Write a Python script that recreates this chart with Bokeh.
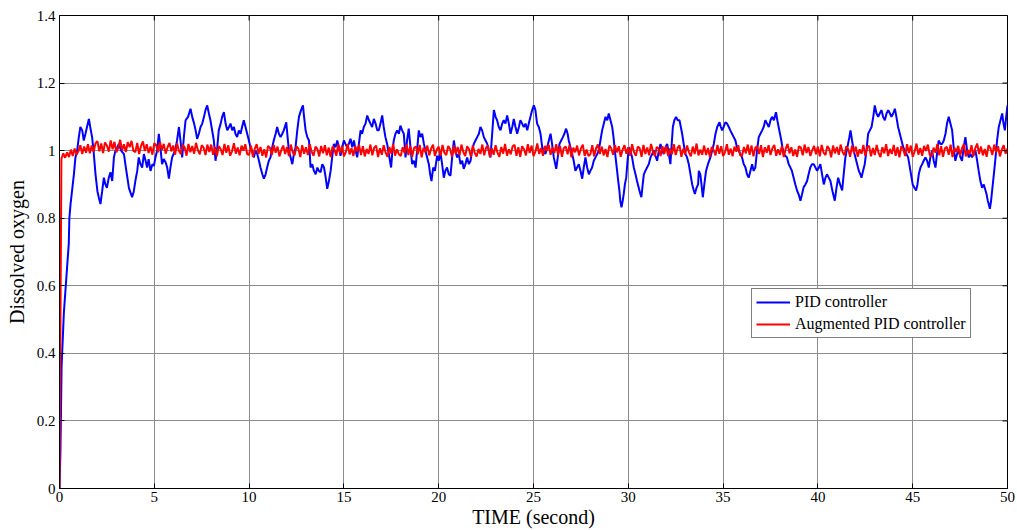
import math
from bokeh.plotting import figure
from bokeh.models import Range1d, FixedTicker, Legend, LegendItem
from bokeh.embed import file_html
from bokeh.resources import INLINE

# ---------------- data ----------------
x_ticks = [0, 5, 10, 15, 20, 25, 30, 35, 40, 45, 50]
y_ticks = [0, 0.2, 0.4, 0.6, 0.8, 1.0, 1.2, 1.4]
y_tick_labels = {0: "0", 0.2: "0.2", 0.4: "0.4", 0.6: "0.6", 0.8: "0.8", 1.0: "1", 1.2: "1.2", 1.4: "1.4"}

series_names = ["PID controller", "Augmented PID controller"]

# PID controller response (time, value)
blue_t = [0, 0.05, 0.11, 0.23, 0.4, 0.49, 0.52, 0.58, 0.7, 0.76, 0.84, 0.93, 1.02, 1.1, 1.2, 1.28, 1.37, 1.45, 1.55, 1.62,
          1.72, 1.81, 1.9, 2.0, 2.07, 2.16, 2.25, 2.34, 2.42, 2.5, 2.6, 2.69, 2.78, 2.87, 2.95, 3.05, 3.13, 3.25, 3.4, 3.5,
          3.58, 3.66, 3.75, 3.83, 3.92, 4.0, 4.1, 4.18, 4.27, 4.36, 4.45, 4.54, 4.62, 4.7, 4.8, 4.9, 4.98, 5.06, 5.15, 5.24,
          5.32, 5.41, 5.5, 5.6, 5.68, 5.77, 5.85, 5.94, 6.02, 6.1, 6.2, 6.3, 6.38, 6.47, 6.56, 6.65, 6.78, 6.91, 7.0, 7.1,
          7.18, 7.26, 7.35, 7.44, 7.53, 7.62, 7.7, 7.79, 7.88, 7.96, 8.05, 8.14, 8.23, 8.32, 8.4, 8.5, 8.58, 8.67, 8.76, 8.85,
          8.94, 9.02, 9.11, 9.2, 9.28, 9.37, 9.46, 9.55, 9.63, 9.72, 9.81, 9.9, 9.99, 10.07, 10.16, 10.25, 10.34, 10.43, 10.52, 10.6,
          10.7, 10.78, 10.87, 10.95, 11.04, 11.13, 11.22, 11.3, 11.4, 11.48, 11.57, 11.66, 11.75, 11.83, 11.96, 12.03, 12.1, 12.19, 12.28, 12.36,
          12.45, 12.54, 12.63, 12.74, 12.84, 12.9, 12.98, 13.07, 13.16, 13.24, 13.33, 13.42, 13.51, 13.6, 13.68, 13.77, 13.86, 13.95, 14.04, 14.12,
          14.21, 14.3, 14.38, 14.47, 14.56, 14.65, 14.74, 14.82, 14.91, 15.0, 15.08, 15.17, 15.26, 15.35, 15.44, 15.53, 15.62, 15.7, 15.79, 15.88,
          15.96, 16.05, 16.14, 16.23, 16.32, 16.4, 16.49, 16.58, 16.67, 16.76, 16.84, 16.93, 17.02, 17.1, 17.19, 17.28, 17.37, 17.49, 17.56, 17.63,
          17.72, 17.81, 17.9, 17.98, 18.07, 18.16, 18.25, 18.33, 18.42, 18.51, 18.6, 18.69, 18.78, 18.86, 18.95, 19.04, 19.13, 19.22, 19.3, 19.39,
          19.48, 19.55, 19.62, 19.71, 19.8, 19.92, 20.0, 20.09, 20.18, 20.27, 20.35, 20.44, 20.53, 20.62, 20.71, 20.8, 20.88, 20.97, 21.06, 21.15,
          21.24, 21.32, 21.41, 21.5, 21.59, 21.68, 21.76, 21.85, 21.94, 22.03, 22.12, 22.2, 22.29, 22.38, 22.47, 22.56, 22.64, 22.73, 22.82, 22.91,
          23.0, 23.08, 23.17, 23.26, 23.35, 23.43, 23.52, 23.61, 23.7, 23.79, 23.88, 23.96, 24.05, 24.14, 24.23, 24.31, 24.4, 24.49, 24.58, 24.67,
          24.75, 24.84, 24.93, 25.02, 25.1, 25.19, 25.28, 25.37, 25.46, 25.54, 25.63, 25.72, 25.81, 25.9, 25.98, 26.07, 26.2, 26.28, 26.37, 26.46,
          26.55, 26.63, 26.72, 26.8, 26.86, 26.95, 27.04, 27.12, 27.21, 27.3, 27.39, 27.48, 27.57, 27.65, 27.74, 27.83, 27.92, 28.0, 28.09, 28.18,
          28.27, 28.36, 28.44, 28.53, 28.62, 28.71, 28.8, 28.89, 28.97, 29.06, 29.15, 29.22, 29.29, 29.35, 29.41, 29.47, 29.53, 29.58, 29.64, 29.7,
          29.76, 29.82, 29.89, 29.96, 30.03, 30.11, 30.2, 30.29, 30.38, 30.46, 30.55, 30.62, 30.69, 30.76, 30.82, 30.9, 30.99, 31.08, 31.17, 31.26,
          31.35, 31.43, 31.52, 31.61, 31.7, 31.78, 31.87, 31.96, 32.05, 32.14, 32.22, 32.29, 32.35, 32.43, 32.52, 32.61, 32.7, 32.77, 32.84, 32.92,
          33.01, 33.1, 33.19, 33.28, 33.37, 33.44, 33.51, 33.6, 33.68, 33.72, 33.8, 33.86, 33.93, 34.01, 34.1, 34.2, 34.33, 34.42, 34.51, 34.6,
          34.69, 34.81, 34.88, 34.95, 35.03, 35.12, 35.21, 35.3, 35.38, 35.47, 35.56, 35.65, 35.73, 35.82, 35.91, 36.0, 36.09, 36.18, 36.26, 36.35,
          36.44, 36.53, 36.61, 36.7, 36.79, 36.88, 36.97, 37.06, 37.14, 37.23, 37.32, 37.41, 37.5, 37.58, 37.68, 37.79, 37.86, 37.93, 38.0, 38.07,
          38.13, 38.2, 38.28, 38.37, 38.46, 38.55, 38.63, 38.72, 38.81, 38.9, 38.99, 39.08, 39.16, 39.25, 39.34, 39.43, 39.51, 39.6, 39.69, 39.78,
          39.87, 39.96, 40.05, 40.13, 40.22, 40.31, 40.4, 40.48, 40.57, 40.66, 40.77, 40.89, 40.98, 41.07, 41.17, 41.28, 41.36, 41.45, 41.52, 41.59,
          41.66, 41.72, 41.8, 41.89, 41.98, 42.07, 42.16, 42.24, 42.3, 42.38, 42.47, 42.56, 42.65, 42.74, 42.83, 42.92, 43.0, 43.09, 43.18, 43.26,
          43.35, 43.44, 43.53, 43.62, 43.71, 43.8, 43.88, 43.97, 44.06, 44.14, 44.23, 44.32, 44.41, 44.5, 44.58, 44.67, 44.76, 44.82, 44.88, 44.94,
          45.0, 45.09, 45.18, 45.25, 45.32, 45.41, 45.5, 45.58, 45.67, 45.76, 45.85, 45.93, 46.02, 46.11, 46.2, 46.28, 46.37, 46.46, 46.55, 46.64,
          46.73, 46.81, 46.9, 46.99, 47.08, 47.16, 47.25, 47.34, 47.43, 47.52, 47.6, 47.69, 47.78, 47.87, 47.96, 48.05, 48.13, 48.22, 48.31, 48.4,
          48.48, 48.57, 48.66, 48.75, 48.84, 48.9, 48.96, 49.02, 49.07, 49.13, 49.19, 49.28, 49.37, 49.45, 49.54, 49.63, 49.72, 49.79, 49.86, 49.93,
          50.0]
blue_v = [0.0, 0.11, 0.36, 0.52, 0.655, 0.725, 0.8, 0.84, 0.9, 0.93, 0.98, 1.0, 1.04, 1.07, 1.06, 1.03, 1.05, 1.07, 1.094, 1.07,
          1.04, 0.99, 0.93, 0.88, 0.862, 0.842, 0.88, 0.92, 0.9, 0.89, 0.92, 0.936, 0.91, 0.98, 1.0, 1.01, 1.02, 1.0, 0.99, 0.95,
          0.92, 0.89, 0.875, 0.862, 0.88, 0.91, 0.94, 0.98, 0.96, 0.95, 0.99, 0.97, 0.95, 0.975, 0.94, 0.96, 0.955, 0.98, 1.0, 1.05,
          1.01, 0.96, 0.975, 0.965, 0.95, 0.917, 0.95, 0.98, 0.99, 1.0, 1.03, 1.07, 1.03, 0.98, 1.04, 1.09, 1.1, 1.124, 1.1, 1.08,
          1.06, 1.035, 1.05, 1.07, 1.08, 1.1, 1.12, 1.134, 1.11, 1.09, 1.06, 1.03, 0.97, 1.01, 1.06, 1.08, 1.1, 1.114, 1.08, 1.06,
          1.07, 1.08, 1.06, 1.07, 1.05, 1.04, 1.06, 1.05, 1.07, 1.09, 1.07, 1.05, 1.03, 1.01, 1.0, 0.98, 1.0, 0.99, 0.97, 0.95,
          0.93, 0.917, 0.93, 0.95, 0.97, 0.98, 1.01, 1.03, 1.05, 1.07, 1.05, 1.04, 1.05, 1.06, 1.084, 1.04, 1.0, 0.98, 0.96, 0.99,
          1.01, 1.06, 1.1, 1.12, 1.134, 1.1, 1.06, 1.04, 1.03, 0.95, 0.96, 0.94, 0.93, 0.95, 0.94, 0.936, 0.96, 0.95, 0.92, 0.887,
          0.91, 0.94, 0.98, 1.02, 1.01, 1.03, 1.01, 0.985, 1.01, 1.03, 1.02, 1.01, 1.02, 1.035, 1.01, 1.03, 1.0, 0.98, 1.02, 1.06,
          1.05, 1.07, 1.08, 1.104, 1.09, 1.08, 1.07, 1.094, 1.08, 1.06, 1.06, 1.08, 1.104, 1.07, 1.04, 1.02, 0.99, 0.95, 1.0, 1.03,
          1.05, 1.06, 1.05, 1.074, 1.06, 1.05, 0.98, 1.03, 1.065, 1.01, 0.96, 0.97, 0.95, 1.0, 1.06, 1.04, 1.05, 1.02, 1.0, 0.98,
          0.96, 0.93, 0.91, 0.95, 0.94, 0.985, 0.97, 0.995, 0.96, 0.92, 0.94, 0.95, 0.93, 0.926, 0.98, 1.03, 1.0, 0.98, 0.99, 0.96,
          0.97, 0.946, 0.96, 0.98, 0.96, 0.97, 1.0, 1.02, 1.03, 1.04, 1.05, 1.07, 1.06, 1.04, 1.03, 1.02, 1.0, 0.98, 1.05, 1.12,
          1.1, 1.09, 1.07, 1.06, 1.08, 1.09, 1.08, 1.104, 1.08, 1.05, 1.07, 1.094, 1.07, 1.05, 1.07, 1.09, 1.08, 1.07, 1.08, 1.06,
          1.08, 1.1, 1.12, 1.134, 1.12, 1.08, 1.07, 1.05, 1.01, 1.0, 0.99, 1.01, 1.03, 1.05, 1.02, 0.98, 0.946, 0.98, 1.02, 1.03,
          1.04, 1.05, 1.065, 1.05, 1.03, 1.01, 0.99, 0.97, 0.94, 0.95, 0.96, 0.94, 0.917, 0.95, 0.98, 0.95, 0.93, 0.94, 0.95, 0.97,
          0.98, 0.99, 1.0, 1.03, 1.06, 1.08, 1.1, 1.09, 1.11, 1.09, 1.07, 1.04, 1.0, 0.97, 0.94, 0.91, 0.882, 0.85, 0.832, 0.85,
          0.872, 0.9, 0.92, 0.97, 1.01, 1.0, 0.98, 0.95, 0.93, 0.91, 0.89, 0.875, 0.862, 0.9, 0.93, 0.94, 0.95, 0.96, 0.98, 0.99,
          1.0, 0.985, 0.97, 1.0, 1.02, 1.0, 0.99, 1.01, 1.02, 0.99, 0.96, 1.02, 1.07, 1.09, 1.1, 1.09, 1.09, 1.07, 1.05, 1.02,
          0.99, 0.98, 0.96, 0.93, 0.9, 0.885, 0.872, 0.89, 0.9, 0.94, 0.93, 0.9, 0.862, 0.9, 0.94, 0.96, 0.98, 1.0, 1.02, 1.05,
          1.07, 1.084, 1.07, 1.06, 1.07, 1.084, 1.08, 1.07, 1.06, 1.05, 1.04, 1.03, 1.01, 1.0, 0.99, 0.98, 0.96, 0.95, 0.93, 0.92,
          0.94, 0.96, 0.94, 0.95, 1.0, 1.04, 1.05, 1.06, 1.07, 1.09, 1.08, 1.07, 1.09, 1.1, 1.09, 1.114, 1.09, 1.07, 1.05, 1.03,
          1.01, 0.99, 0.985, 0.98, 0.96, 0.95, 0.94, 0.92, 0.9, 0.882, 0.87, 0.852, 0.87, 0.892, 0.9, 0.91, 0.93, 0.95, 0.96, 0.96,
          0.95, 0.94, 0.95, 0.96, 0.93, 0.9, 0.92, 0.93, 0.92, 0.91, 0.88, 0.852, 0.89, 0.92, 0.9, 0.882, 0.93, 0.98, 1.0, 1.02,
          1.04, 1.06, 1.03, 1.0, 0.98, 0.96, 0.94, 0.93, 0.92, 0.94, 0.96, 1.0, 1.05, 1.06, 1.07, 1.1, 1.134, 1.11, 1.1, 1.11,
          1.12, 1.1, 1.09, 1.11, 1.12, 1.11, 1.1, 1.11, 1.124, 1.1, 1.07, 1.05, 1.03, 1.01, 1.0, 0.99, 0.98, 0.96, 0.94, 0.92,
          0.9, 0.89, 0.882, 0.9, 0.93, 0.95, 0.96, 0.97, 0.98, 0.97, 0.95, 0.98, 1.0, 0.97, 0.95, 0.99, 1.03, 1.02, 1.02, 1.03,
          1.05, 1.08, 1.1, 1.08, 1.06, 1.01, 0.97, 0.99, 1.0, 0.98, 0.97, 1.01, 1.04, 1.0, 0.98, 0.99, 0.98, 0.99, 1.0, 0.97,
          0.94, 0.91, 0.89, 0.9, 0.882, 0.87, 0.852, 0.84, 0.828, 0.85, 0.882, 0.93, 0.98, 1.03, 1.07, 1.09, 1.11, 1.08, 1.06, 1.1,
          1.134]

# Augmented PID controller response, sampled every 0.1 s from t = 0
red_dt = 0.1
red_v = [0.000, 0.976, 0.992, 0.979, 0.995, 0.981, 1.003, 0.984, 1.006, 0.988, 0.999, 1.016, 0.990, 1.012, 0.994, 1.019, 0.992, 1.015, 0.997, 1.022,
         1.028, 0.998, 1.021, 0.993, 1.024, 1.015, 0.997, 1.030, 1.004, 1.026, 0.995, 1.008, 1.032, 1.001, 1.019, 0.996, 1.025, 1.010, 1.029, 0.999,
         0.996, 1.023, 0.990, 1.014, 1.027, 0.999, 1.019, 0.993, 1.012, 0.988, 1.022, 1.016, 0.995, 1.025, 1.002, 1.020, 0.991, 1.010, 1.023, 0.998,
         1.015, 0.988, 1.022, 0.999, 0.990, 1.017, 1.010, 0.985, 1.020, 0.995, 1.014, 0.991, 1.023, 1.001, 0.989, 1.016, 1.009, 0.987, 1.018, 0.996,
         1.018, 0.988, 1.011, 0.983, 1.014, 1.005, 0.987, 1.020, 0.994, 1.016, 0.985, 0.998, 1.022, 0.991, 1.009, 0.986, 1.015, 1.000, 1.019, 0.989,
         0.988, 1.015, 0.982, 1.006, 1.019, 0.991, 1.011, 0.985, 1.004, 0.980, 1.014, 1.008, 0.987, 1.017, 0.994, 1.012, 0.983, 1.002, 1.015, 0.990,
         1.011, 0.984, 1.018, 0.995, 0.986, 1.013, 1.006, 0.981, 1.016, 0.991, 1.010, 0.987, 1.019, 0.997, 0.985, 1.012, 1.005, 0.983, 1.014, 0.992,
         1.016, 0.986, 1.009, 0.981, 1.012, 1.003, 0.985, 1.018, 0.992, 1.014, 0.983, 0.996, 1.020, 0.989, 1.007, 0.984, 1.013, 0.998, 1.017, 0.987,
         1.013, 0.983, 1.005, 0.990, 1.018, 0.986, 1.009, 1.015, 0.981, 1.007, 0.988, 1.016, 0.994, 0.982, 1.011, 0.991, 1.020, 0.985, 1.004, 0.989,
         0.984, 1.010, 0.993, 1.019, 0.987, 1.014, 0.982, 1.008, 1.012, 0.989, 1.017, 0.980, 1.009, 0.995, 1.015, 0.986, 1.006, 1.018, 0.984, 1.003,
         1.012, 0.985, 1.017, 0.994, 0.987, 1.014, 1.005, 0.982, 1.015, 0.990, 1.011, 0.986, 1.018, 0.996, 0.984, 1.013, 1.004, 0.982, 1.015, 0.993,
         0.983, 1.005, 0.990, 1.018, 0.986, 1.009, 1.015, 0.981, 1.007, 0.988, 1.016, 0.994, 0.982, 1.011, 0.991, 1.020, 0.985, 1.004, 0.989, 1.013,
         1.017, 0.985, 1.010, 0.982, 1.013, 1.004, 0.986, 1.019, 0.993, 1.015, 0.984, 0.997, 1.021, 0.990, 1.008, 0.985, 1.014, 0.999, 1.018, 0.988,
         1.010, 0.993, 1.019, 0.987, 1.014, 0.982, 1.008, 1.012, 0.989, 1.017, 0.980, 1.009, 0.995, 1.015, 0.986, 1.006, 1.018, 0.984, 1.003, 0.984,
         0.989, 1.016, 0.983, 1.007, 1.018, 0.990, 1.012, 0.986, 1.005, 0.981, 1.015, 1.007, 0.988, 1.016, 0.995, 1.013, 0.982, 1.003, 1.016, 0.991,
         1.010, 0.985, 1.019, 0.996, 0.985, 1.012, 1.007, 0.982, 1.017, 0.990, 1.009, 0.986, 1.020, 0.998, 0.984, 1.011, 1.006, 0.984, 1.013, 0.991,
         1.014, 0.984, 1.006, 0.989, 1.019, 0.987, 1.008, 1.016, 0.982, 1.006, 0.989, 1.015, 0.995, 0.983, 1.012, 0.990, 1.021, 0.986, 1.003, 0.988,
         1.015, 0.987, 1.008, 0.982, 1.011, 1.002, 0.986, 1.017, 0.991, 1.013, 0.984, 0.995, 1.019, 0.988, 1.006, 0.983, 1.012, 0.997, 1.016, 0.986,
         0.985, 1.011, 0.992, 1.018, 0.988, 1.015, 0.983, 1.009, 1.013, 0.990, 1.016, 0.981, 1.010, 0.994, 1.016, 0.987, 1.007, 1.017, 0.985, 1.004,
         0.987, 1.014, 0.981, 1.005, 1.020, 0.992, 1.010, 0.984, 1.003, 0.982, 1.013, 1.009, 0.986, 1.018, 0.993, 1.011, 0.984, 1.001, 1.014, 0.989,
         1.012, 0.983, 1.017, 0.994, 0.987, 1.014, 1.005, 0.980, 1.015, 0.992, 1.011, 0.988, 1.018, 0.996, 0.986, 1.013, 1.004, 0.982, 1.015, 0.993,
         1.012, 0.982, 1.004, 0.991, 1.017, 0.985, 1.010, 1.014, 0.983, 1.008, 0.987, 1.017, 0.993, 0.981, 1.010, 0.992, 1.019, 0.984, 1.005, 0.990,
         1.017, 0.985, 1.010, 0.980, 1.013, 1.004, 0.984, 1.019, 0.993, 1.015, 0.982, 0.997, 1.021, 0.988, 1.008, 0.985, 1.014, 0.999, 1.018, 0.987,
         0.983, 1.009, 0.994, 1.020, 0.986, 1.013, 0.982, 1.007, 1.011, 0.988, 1.018, 0.981, 1.008, 0.996, 1.014, 0.985, 1.007, 1.019, 0.983, 1.002,
         0.989, 1.016, 0.984, 1.007, 1.021, 0.990, 1.012, 0.986, 1.005, 0.982, 1.016, 1.007, 0.987, 1.018, 0.995, 1.013, 0.983, 1.003, 1.016, 0.991,
         1.006]
red_t = [round(i * red_dt, 2) for i in range(len(red_v))]

# ---------------- figure ----------------
FONT = "Liberation Serif"
X0, X1, Y0, Y1 = x_ticks[0], x_ticks[-1], y_ticks[0], y_ticks[-1]

p = figure(width=1017, height=530, output_backend="svg", toolbar_location=None,
           x_range=Range1d(X0, X1), y_range=Range1d(Y0, Y1),
           min_border_left=59, min_border_right=10, min_border_top=15, min_border_bottom=42,
           background_fill_color="white", border_fill_color="white")
p.outline_line_color = "black"
p.outline_line_width = 1

p.xgrid.grid_line_color = "#8c8c8c"
p.ygrid.grid_line_color = "#8c8c8c"
p.xgrid.grid_line_width = 1
p.ygrid.grid_line_width = 1

rb = p.line(blue_t, blue_v, line_color="#0000ff", line_width=2)
rr = p.line(red_t, red_v, line_color="#ff0000", line_width=2)

# inward tick marks on the top and right edges of the box (clipped half inside the frame)
p.scatter(x_ticks, [Y1] * len(x_ticks), marker="dash", angle=math.pi / 2, size=10,
          line_color="black", line_width=1)
p.scatter([X1] * len(y_ticks), y_ticks, marker="dash", size=10,
          line_color="black", line_width=1)

for ax in p.xaxis:
    ax.ticker = FixedTicker(ticks=x_ticks, minor_ticks=[])
for ax in p.yaxis:
    ax.ticker = FixedTicker(ticks=y_ticks, minor_ticks=[])
    ax.major_label_overrides = y_tick_labels

for ax in list(p.xaxis) + list(p.yaxis):
    ax.major_tick_in = 5
    ax.major_tick_out = 0
    ax.minor_tick_line_color = None
    ax.axis_line_color = "black"
    ax.major_tick_line_color = "black"
    ax.major_label_text_font = FONT
    ax.major_label_text_font_size = "15px"
    ax.major_label_text_color = "black"
    ax.axis_label_text_font = FONT
    ax.axis_label_text_font_size = "20px"
    ax.axis_label_text_font_style = "normal"
    ax.axis_label_text_color = "black"

p.xaxis.axis_label = "TIME (second)"
p.yaxis.axis_label = "Dissolved oxygen"
p.xaxis.major_label_standoff = 3
p.xaxis.axis_label_standoff = 1
p.yaxis.major_label_standoff = 4
p.yaxis.axis_label_standoff = 6

legend = Legend(items=[LegendItem(label=series_names[0], renderers=[rb]),
                       LegendItem(label=series_names[1], renderers=[rr])],
                location=(692, 150), orientation="vertical",
                border_line_color="black", border_line_width=1,
                background_fill_color="white", background_fill_alpha=1,
                label_text_font=FONT, label_text_font_size="16px", label_text_color="black",
                glyph_width=34, glyph_height=18, label_height=18, spacing=4,
                padding=4, margin=0, label_standoff=5)
p.add_layout(legend, "center")

open("out.html", "w").write(file_html(p, INLINE))
